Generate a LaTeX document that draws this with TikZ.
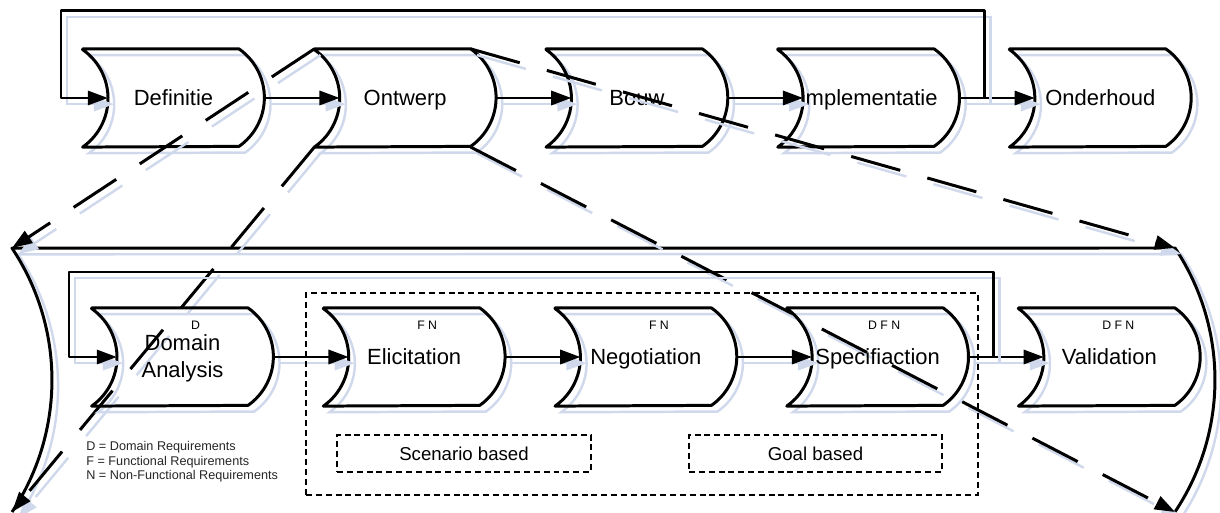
\documentclass[tikz,border=0pt]{standalone}
\usepackage{fontspec}
\setmainfont{Liberation Sans}
\usepackage{xcolor}
\usepackage{tikz}
\usetikzlibrary{positioning, arrows.meta, calc}

\definecolor{shadowblue}{RGB}{208,217,236}
\newcommand{\lstrut}{\rule[-2pt]{0pt}{13pt}}

\tikzset{
  line/.style={line width=1.7pt, line join=round,
    preaction={draw=shadowblue, line width=1.4pt, transform canvas={xshift=3.5pt,yshift=-3.5pt}}},
  flow/.style={line, -{Triangle[length=11.5pt,width=8pt]}},
  zoomline/.style={line width=1.7pt, dash pattern=on 29pt off 16pt, -{Triangle[length=11.5pt,width=8pt]},
    preaction={draw=shadowblue, line width=1.4pt, dash pattern=on 29pt off 16pt, transform canvas={xshift=3.5pt,yshift=-3.5pt}}},
  stage/.style={minimum width=3.62cm, minimum height=1.95cm, inner sep=0pt, align=center,
    font=\fontsize{12.5}{15.4}\selectfont,
    append after command={\pgfextra{\draw[line] (\tikzlastnode.north west)
      -- ([xshift=-5.07mm]\tikzlastnode.north east) arc[start angle=55, end angle=-55, radius=1.19cm]
      -- (\tikzlastnode.south west) arc[start angle=-55, end angle=55, radius=1.19cm] -- cycle;}}},
  tag/.style={font=\fontsize{7}{8}\selectfont, inner sep=0pt},
  dotbox/.style={draw, line width=1.5pt, dash pattern=on 3.4pt off 2.2pt, inner sep=0pt},
  legend/.style={align=left, inner sep=0pt, text=black!85, font=\fontsize{7.2}{8.3}\selectfont}
}

\begin{document}
\begin{tikzpicture}
\useasboundingbox (0,0) rectangle (24.4,-10.26);

% phases
\node[stage] (def) at (3.47,-1.96) {Definitie\lstrut};
\node[stage, right=1cm of def] (ont) {Ontwerp\lstrut};
\node[stage, right=1cm of ont] (bou) {Bouw\lstrut};
\node[stage, right=1cm of bou] (imp) {Implementatie\lstrut};
\node[stage, right=1cm of imp] (ond) {Onderhoud\lstrut};

\draw[flow] (def.east) -- ([xshift=5.07mm]ont.west);
\draw[flow] (ont.east) -- ([xshift=5.07mm]bou.west);
\draw[flow] (bou.east) -- ([xshift=5.07mm]imp.west);
\draw[flow] (imp.east) -- ([xshift=5.07mm]ond.west);
\coordinate (back1) at ($(imp.east)!0.5!(ond.west)$);
\draw[flow] (back1) |- (1.22,-0.22) |- ([xshift=5.07mm]def.west);

% zoom of Ontwerp
\coordinate (bigNW) at (0.24,-4.96);
\coordinate (bigNE) at (23.5,-4.96);
\coordinate (bigSW) at (0.24,-10.24);
\coordinate (bigSE) at (23.5,-10.24);
\draw[line] (bigSW) arc[start angle=-33.7, end angle=33.7, radius=4.756cm]
  -- (bigNE) arc[start angle=33.7, end angle=-33.7, radius=4.756cm];

\draw[zoomline] (ont.north west) -- (bigNW);
\draw[zoomline] (ont.south west) -- (bigSW);
\draw[zoomline] ([xshift=-5.07mm]ont.north east) -- (bigNE);
\draw[zoomline] ([xshift=-5.07mm]ont.south east) -- (bigSE);

% requirements process
\node[stage] (dom) at (3.65,-7.14) {Domain\lstrut\\Analysis\lstrut};
\node[stage, right=1cm of dom] (eli) {Elicitation\lstrut};
\node[stage, right=1cm of eli] (neg) {Negotiation\lstrut};
\node[stage, right=1cm of neg] (spc) {Specifiaction\lstrut};
\node[stage, right=1cm of spc] (val) {Validation\lstrut};

\node[tag] (domtag) at ([xshift=2.6mm,yshift=6.4mm]dom.center) {D};
\node[tag] (elitag) at ([xshift=2.6mm,yshift=6.4mm]eli.center) {F N};
\node[tag] (negtag) at ([xshift=2.6mm,yshift=6.4mm]neg.center) {F N};
\node[tag] (spctag) at ([xshift=1.3mm,yshift=6.4mm]spc.center) {D F N};
\node[tag] (valtag) at ([xshift=1.8mm,yshift=6.4mm]val.center) {D F N};

\draw[flow] (dom.east) -- ([xshift=5.07mm]eli.west);
\draw[flow] (eli.east) -- ([xshift=5.07mm]neg.west);
\draw[flow] (neg.east) -- ([xshift=5.07mm]spc.west);
\draw[flow] (spc.east) -- ([xshift=5.07mm]val.west);
\coordinate (back2) at ($(spc.east)!0.5!(val.west)$);
\draw[flow] (back2) |- (1.38,-5.44) |- ([xshift=5.07mm]dom.west);

\node[dotbox, minimum width=13.44cm, minimum height=4.04cm] (req) at (12.84,-7.88) {};
\node[dotbox, minimum width=5.08cm, minimum height=0.74cm, font=\fontsize{10.6}{12}\selectfont] (scen) at (9.28,-9.07) {Scenario based};
\node[dotbox, minimum width=5.06cm, minimum height=0.74cm, font=\fontsize{10.6}{12}\selectfont] (goal) at (16.31,-9.07) {Goal based};

\node[legend, anchor=west] (key) at (1.72,-9.24) {D = Domain Requirements\\F = Functional Requirements\\N = Non-Functional Requirements};
\end{tikzpicture}
\end{document}
